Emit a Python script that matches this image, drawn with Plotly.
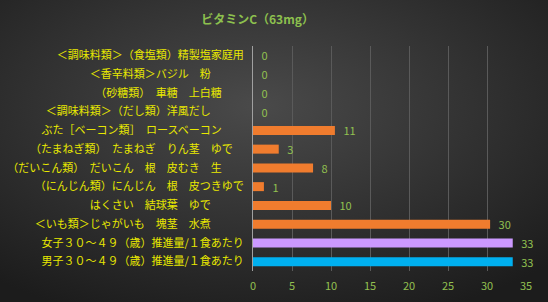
import plotly.graph_objects as go
import base64

categories = [
    "＜調味料類＞（食塩類）精製塩家庭用",
    "＜香辛料類＞バジル　粉",
    "（砂糖類）　車糖　上白糖",
    "＜調味料類＞（だし類）洋風だし",
    "ぶた［ベーコン類］　ロースベーコン",
    "（たまねぎ類）　たまねぎ　りん茎　ゆで",
    "（だいこん類）　だいこん　根　皮むき　生",
    "（にんじん類）にんじん　根　皮つきゆで",
    "はくさい　結球葉　ゆで",
    "＜いも類＞じゃがいも　塊茎　水煮",
    "女子３０～４９（歳）推進量/１食あたり",
    "男子３０～４９（歳）推進量/１食あたり",
]
trailing = [0, 3, 2, 3, 2, 1, 2, 0, 3, 3, 0, 0]
values = [0, 0, 0, 0, 10.5, 3.3, 7.7, 1.4, 10.0, 30.4, 33.3, 33.3]
colors = ["#F07C2E"] * 10 + ["#CC99FF", "#00B0F0"]
x_ticks = [0, 5, 10, 15, 20, 25, 30, 35]

labels = [c + "\u3000" * t for c, t in zip(categories, trailing)]

svg = (
    '<svg xmlns="http://www.w3.org/2000/svg" width="548" height="302">'
    '<defs><radialGradient id="g" cx="0.47" cy="0.35" r="0.75">'
    '<stop offset="0" stop-color="#4a4a4a"/>'
    '<stop offset="1" stop-color="#1c1c1c"/>'
    '</radialGradient></defs>'
    '<rect width="548" height="302" fill="url(#g)"/></svg>'
)
src = "data:image/svg+xml;base64," + base64.b64encode(svg.encode()).decode()

W, H = 548, 302
L, R, T, B = 253, 22, 46, 31
pw, ph = W - L - R, H - T - B

fig = go.Figure()
fig.add_trace(go.Bar(
    y=labels, x=values, orientation="h",
    marker=dict(color=colors, line=dict(width=0)),
    text=values, texttemplate="\u2002%{x:.0f}", textposition="outside",
    constraintext="none",
    textfont=dict(color="#92C050", size=11, family="Noto Sans CJK JP"),
    outsidetextfont=dict(color="#92C050", size=11, family="Noto Sans CJK JP"),
    cliponaxis=False,
))

fig.update_layout(
    width=W, height=H,
    margin=dict(l=L, r=R, t=T, b=B, autoexpand=False),
    paper_bgcolor="#2a2a2a", plot_bgcolor="rgba(0,0,0,0)",
    bargap=0.52,
    showlegend=False,
    title=dict(text="<b>ビタミンC（63mg）</b>", x=0.47, xanchor="center", y=0.935, yanchor="middle",
               font=dict(color="#8DC04E", size=12, family="Noto Sans CJK JP")),
    images=[dict(source=src, xref="paper", yref="paper",
                 x=-L / pw, y=1 + T / ph, sizex=W / pw, sizey=H / ph,
                 xanchor="left", yanchor="top", sizing="stretch", layer="below")],
)
fig.update_xaxes(range=[0, 35], tickvals=x_ticks, showgrid=True, gridcolor="#5a5a5a", gridwidth=1,
                 zeroline=False, showline=False, automargin=False,
                 tickfont=dict(color="#92C050", size=11, family="Noto Sans CJK JP"), ticks="",
                 ticklabelstandoff=7)
fig.update_yaxes(autorange="reversed", showgrid=False, showline=True, linecolor="#a0a0a0", linewidth=1,
                 automargin=False,
                 tickfont=dict(color="#E8E800", size=11, family="Noto Sans CJK JP"), ticks="",
                 ticklabelstandoff=6)

fig.write_html("out.html")
